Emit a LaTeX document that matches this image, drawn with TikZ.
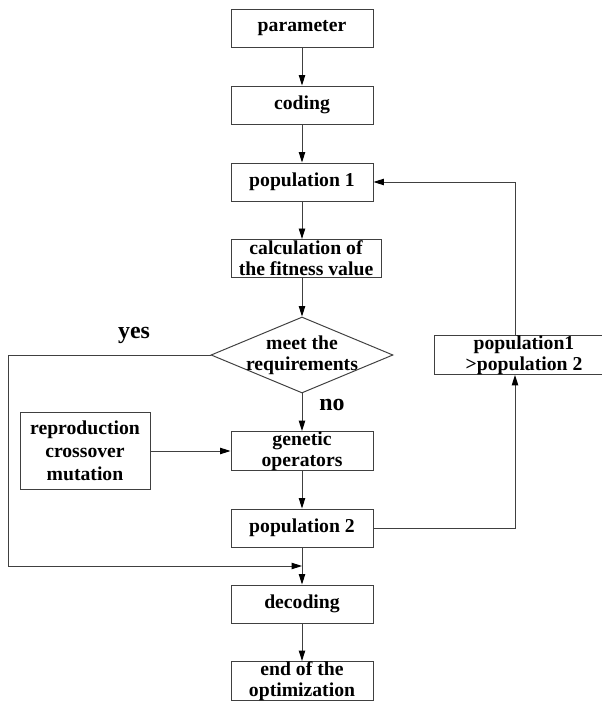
\documentclass[tikz,border=0pt]{standalone}
\usepackage{fontspec}
\setmainfont{Liberation Serif}
\usetikzlibrary{shapes.geometric,arrows.meta}

\begin{document}
\begin{tikzpicture}[box/.style={draw=black!75, line width=0.7pt, rectangle, minimum width=3.55cm, minimum height=0.95cm, inner sep=0pt, align=center, font=\bfseries\fontsize{14}{15}\selectfont},
dia/.style={draw=black!75, line width=0.7pt, diamond, minimum width=4.55cm, minimum height=1.9cm, inner sep=0pt},
txt/.style={inner sep=0pt, align=center, font=\bfseries\fontsize{14}{15}\selectfont},
lbl/.style={inner sep=0pt, font=\bfseries\fontsize{17}{17}\selectfont},
arr/.style={draw=black!75, line width=0.7pt, -{Triangle[length=2.6mm,width=1.6mm,color=black]}}]
\useasboundingbox (0,0) rectangle (15.05,17.6);
\node[box] (F1N1) at (7.55,16.9) {parameter};
\node[box] (F1N2) at (7.55,14.975) {coding};
\node[box] (F1N3) at (7.55,13.05) {population 1};
\node[box, minimum width=3.75cm] (F1N4) at (7.65,11.14) {calculation of\\the fitness value};
\node[dia] (F1N5) at (7.55,8.725) {};
\node[txt] (F1N5T) at (F1N5) {meet the\\requirements};
\node[box] (F1N6) at (7.55,6.325) {genetic\\operators};
\node[box, minimum width=3.25cm, minimum height=1.925cm, font=\bfseries\fontsize{14}{16.5}\selectfont] (F1N7) at (2.125,6.325) {reproduction\\crossover\\mutation};
\node[box] (F1N8) at (7.55,4.4) {population 2};
\node[box, minimum width=4.5cm] (F1N9) at (13.1,8.725) {population1\\>population 2};
\node[box] (F1N10) at (7.55,2.5) {decoding};
\node[box] (F1N11) at (7.55,0.575) {end of the\\optimization};
\node[lbl] (F1L1) at (3.35,9.225) {yes};
\node[lbl] (F1L2) at (8.3,7.475) {no};
\coordinate (C1) at (0.2,8.725);
\coordinate (C2) at (0.2,3.45);
\coordinate (C3) at (7.55,3.45);
\coordinate (C4) at (12.875,8.725);
\draw[arr] (F1N1) -- (F1N2);
\draw[arr] (F1N2) -- (F1N3);
\draw[arr] (F1N3.south) -- (F1N3.south |- F1N4.north);
\draw[arr] (F1N5.north |- F1N4.south) -- (F1N5.north);
\draw[arr] (F1N5) -- (F1N6);
\draw[arr] (F1N7) -- (F1N6);
\draw[arr] (F1N6) -- (F1N8);
\draw[arr] (F1N8) -- (F1N10);
\draw[arr] (F1N10) -- (F1N11);
\draw[arr] (F1N5.west) -- (C1) -- (C2) -- (C3);
\draw[arr] (F1N8.east) -| (C4 |- F1N9.south);
\draw[arr] (C4 |- F1N9.north) |- (F1N3.east);
\end{tikzpicture}
\end{document}
